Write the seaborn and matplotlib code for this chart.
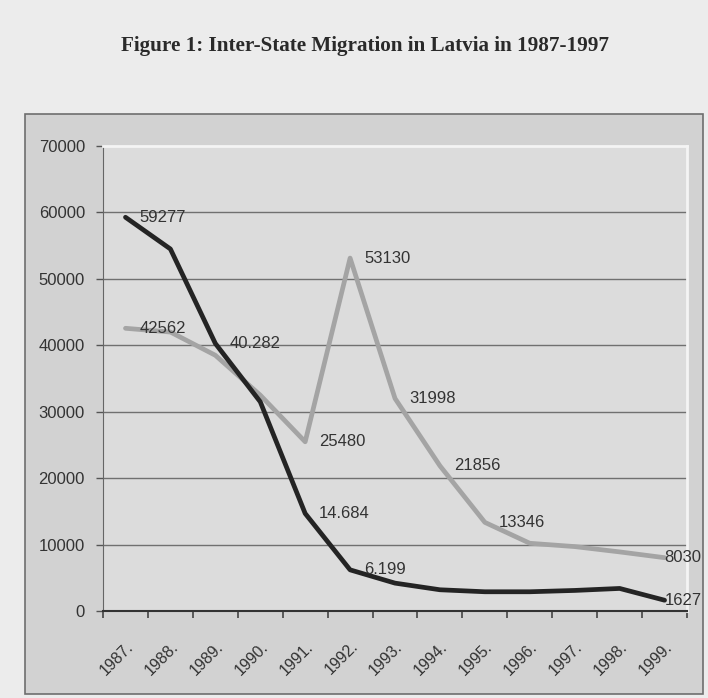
import matplotlib
matplotlib.use("Agg")
import matplotlib.pyplot as plt
import pandas as pd
import seaborn as sns
from matplotlib.patches import Rectangle

years = ["1987.", "1988.", "1989.", "1990.", "1991.", "1992.", "1993.",
         "1994.", "1995.", "1996.", "1997.", "1998.", "1999."]
# dark line
series_a = [59277, 54500, 40282, 31500, 14684, 6199, 4200,
            3200, 2900, 2900, 3100, 3400, 1627]
# light line
series_b = [42562, 42000, 38500, 32500, 25480, 53130, 31998,
            21856, 13346, 10200, 9700, 8900, 8030]
labels_a = {0: "59277", 2: "40.282", 4: "14.684", 5: "6.199", 12: "1627"}
labels_b = {0: "42562", 4: "25480", 5: "53130", 6: "31998", 7: "21856",
            8: "13346", 12: "8030"}

df = pd.DataFrame({
    "idx": list(range(len(years))) * 2,
    "value": series_a + series_b,
    "series": ["a"] * len(years) + ["b"] * len(years),
})

plt.rcParams["font.family"] = ["Liberation Sans", "DejaVu Sans"]
fig = plt.figure(figsize=(7.08, 6.98), dpi=100, facecolor="#ececec")

# chart frame
fig.patches.append(Rectangle((0.035, 0.006), 0.958, 0.831, transform=fig.transFigure,
                             facecolor="#d2d2d2", edgecolor="#6e6e6e", lw=1.2,
                             zorder=-5))

ax = fig.add_axes([0.1455, 0.1246, 0.8249, 0.6662])
ax.set_facecolor("#dcdcdc")

sns.lineplot(data=df, x="idx", y="value", hue="series",
             palette={"a": "#242424", "b": "#a4a4a4"}, hue_order=["b", "a"],
             linewidth=3.4, legend=False, ax=ax, zorder=3,
             solid_joinstyle="round", solid_capstyle="round")

txt = "#333333"
for data, labs in [(series_a, labels_a), (series_b, labels_b)]:
    for i, s in labs.items():
        dx = 0 if i == len(years) - 1 else 10
        ax.annotate(s, (i, data[i]), xytext=(dx, 0), textcoords="offset points",
                    ha="left", va="center", fontsize=12, color=txt,
                    annotation_clip=False, zorder=4)

ax.set_xlim(-0.5, len(years) - 0.5)
ax.set_ylim(0, 70000)
ax.set_yticks(range(0, 70001, 10000))
ax.set_yticklabels([str(v) for v in range(0, 70001, 10000)], fontsize=12, color=txt)
for v in range(10000, 70000, 10000):
    ax.axhline(v, color="#707070", lw=1, zorder=1)

ax.set_xticks(range(len(years)))
ax.set_xticklabels(years, rotation=45, ha="right", rotation_mode="anchor",
                   fontsize=11.5, color=txt)
ax.set_xticks([i - 0.5 for i in range(len(years) + 1)] + list(range(len(years))),
              minor=True)
ax.tick_params(axis="x", which="major", length=0, pad=20)
ax.tick_params(axis="x", which="minor", length=5, width=1.2, color="#444444",
               direction="out")
ax.tick_params(axis="y", length=5, width=1, color="#555555", pad=8)
ax.set_xlabel("")
ax.set_ylabel("")

for side in ["top", "right"]:
    ax.spines[side].set_color("#f4f4f4")
    ax.spines[side].set_linewidth(2)
ax.spines["left"].set_color("#666666")
ax.spines["bottom"].set_color("#333333")
ax.spines["bottom"].set_linewidth(1.5)

fig.text(0.516, 0.934, "Figure 1: Inter-State Migration in Latvia in 1987-1997",
         ha="center", va="center", fontsize=15.2, fontweight="bold",
         family=["Liberation Serif", "DejaVu Serif"], color="#2a2a2a")

fig.savefig("out.png", dpi=100, facecolor=fig.get_facecolor())
